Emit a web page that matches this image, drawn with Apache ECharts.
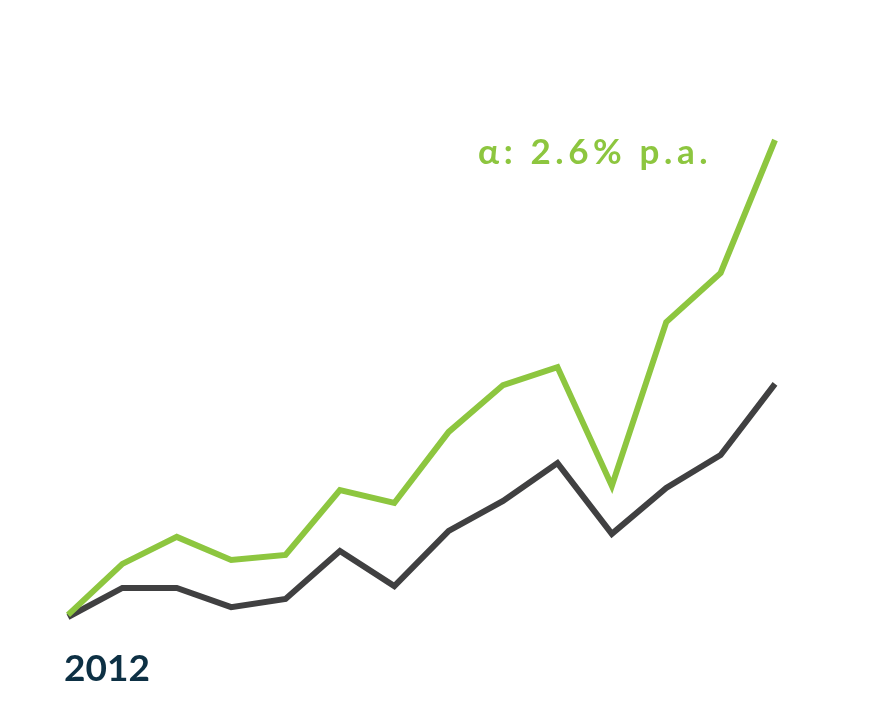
<!DOCTYPE html>
<html>
<head>
<meta charset="utf-8">
<script src="https://cdn.jsdelivr.net/npm/echarts@6/dist/echarts.min.js"></script>
<style>html,body{margin:0;padding:0;background:#fff;}#c{width:875px;height:711px;}</style>
</head>
<body>
<div id="c"></div>
<script>
const years = ['2012','2013','2014','2015','2016','2017','2018','2019','2020','2021','2022','2023','2024','2025'];
const fundValues = [100.7, 117.7, 126.7, 119.0, 120.7, 142.3, 138.0, 161.7, 177.3, 183.3, 143.7, 198.3, 214.7, 259.0];
const benchmarkValues = [100.0, 109.7, 109.7, 103.3, 106.0, 122.0, 110.3, 128.7, 138.7, 151.3, 127.7, 143.0, 154.0, 177.7];
const alphaLabel = 'α: 2.6% p.a.';

// letter-spaced rendering of the label via rich tokens
const spaced = Array.from(alphaLabel).map(ch => '{c|' + ch + '}').join('');

const chart = echarts.init(document.getElementById('c'), null, {renderer: 'canvas'});
chart.setOption({
  animation: false,
  backgroundColor: '#ffffff',
  grid: {left: 68, right: 100, top: 47, bottom: 70},
  xAxis: {
    type: 'category',
    data: years,
    boundaryGap: false,
    axisLine: {show: false},
    axisTick: {show: false},
    splitLine: {show: false},
    axisLabel: {
      interval: 0,
      formatter: (v, i) => i === 0 ? v : '',
      align: 'left',
      verticalAlign: 'middle',
      margin: 28,
      padding: [0, 0, 0, -4],
      color: '#0d3044',
      fontFamily: 'Lato',
      fontWeight: 'bold',
      fontSize: 37
    }
  },
  yAxis: {
    type: 'value',
    min: 92,
    max: 290,
    show: false,
    splitLine: {show: false}
  },
  series: [
    {
      name: 'Benchmark',
      type: 'line',
      data: benchmarkValues,
      symbol: 'none',
      lineStyle: {color: '#404041', width: 6, join: 'miter'},
      z: 2
    },
    {
      name: 'Fund',
      type: 'line',
      data: fundValues,
      symbol: 'none',
      lineStyle: {color: '#8dc63f', width: 6, join: 'miter'},
      z: 3
    }
  ],
  graphic: [{
    type: 'text',
    left: 478,
    top: 135,
    style: {
      text: spaced,
      rich: {
        c: {
          fill: '#8dc63f',
          fontFamily: 'Lato',
          fontWeight: 'bold',
          fontSize: 35,
          padding: [0, 4.6, 0, 0]
        }
      }
    }
  }]
});
</script>
</body>
</html>
